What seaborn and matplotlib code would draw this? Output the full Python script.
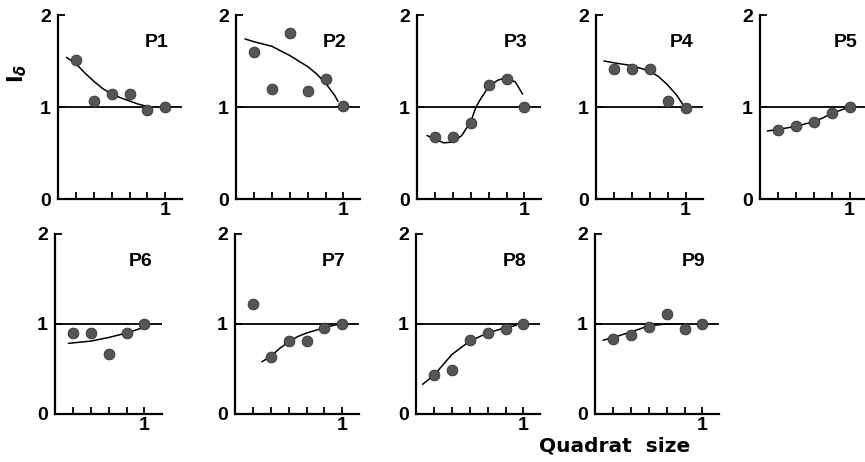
import matplotlib
matplotlib.use("Agg")
import matplotlib.pyplot as plt
import seaborn as sns

# quadrat size steps (last step = size 1)
sizes6 = [1, 2, 3, 4, 5, 6]
sizes5 = [1, 2, 3, 4, 5]

# observed I_delta values
p1_y = [1.51, 1.06, 1.14, 1.14, 0.97, 1.00]
p2_y = [1.60, 1.20, 1.80, 1.17, 1.30, 1.01]
p3_y = [0.67, 0.67, 0.83, 1.24, 1.30, 1.00]
p4_y = [1.41, 1.41, 1.41, 1.07, 0.99]
p5_y = [0.75, 0.79, 0.84, 0.94, 1.00]
p6_y = [0.90, 0.90, 0.67, 0.90, 1.00]
p7_y = [1.22, 0.63, 0.81, 0.81, 0.96, 1.00]
p8_y = [0.43, 0.49, 0.82, 0.90, 0.94, 1.00]
p9_y = [0.83, 0.88, 0.97, 1.11, 0.95, 1.00]

# fitted curves
p1_cx = [0.47, 1, 1.5, 2, 2.5, 3, 3.5, 4, 4.5, 5.14]
p1_cy = [1.54, 1.47, 1.37, 1.28, 1.20, 1.14, 1.10, 1.065, 1.03, 1.00]
p2_cx = [0.5, 1, 2, 3, 4, 4.5, 5, 5.5, 5.7]
p2_cy = [1.74, 1.71, 1.66, 1.56, 1.44, 1.36, 1.26, 1.13, 1.06]
p3_cx = [0.56, 1, 1.5, 2, 2.5, 3, 3.3, 3.5, 4, 4.5, 5, 5.5, 5.9]
p3_cy = [0.69, 0.65, 0.61, 0.62, 0.69, 0.84, 1.00, 1.07, 1.22, 1.29, 1.32, 1.27, 1.14]
p4_cx = [0.44, 1, 2, 3, 3.5, 4, 4.5, 4.95]
p4_cy = [1.50, 1.48, 1.45, 1.39, 1.33, 1.24, 1.13, 1.00]
p5_cx = [0.41, 1, 2, 3, 3.5, 4, 5]
p5_cy = [0.74, 0.755, 0.79, 0.84, 0.88, 0.93, 1.00]
p6_cx = [0.75, 1, 2, 3, 4, 4.77]
p6_cy = [0.785, 0.79, 0.81, 0.85, 0.90, 0.95]
p7_cx = [1.5, 2, 2.5, 3, 3.5, 4, 4.5, 5, 5.5, 5.9]
p7_cy = [0.58, 0.64, 0.73, 0.80, 0.86, 0.90, 0.93, 0.96, 0.985, 1.00]
p8_cx = [0.37, 1, 2, 3, 4, 5, 5.6]
p8_cy = [0.33, 0.43, 0.66, 0.81, 0.90, 0.96, 0.985]
p9_cx = [0.46, 1, 2, 3, 3.5, 4, 5]
p9_cy = [0.82, 0.85, 0.91, 0.98, 0.99, 1.00, 1.00]

names = ["P1", "P2", "P3", "P4", "P5", "P6", "P7", "P8", "P9"]
xs = [sizes6, sizes6, sizes6, sizes5, sizes5, sizes5, sizes6, sizes6, sizes6]
ys = [p1_y, p2_y, p3_y, p4_y, p5_y, p6_y, p7_y, p8_y, p9_y]
cxs = [p1_cx, p2_cx, p3_cx, p4_cx, p5_cx, p6_cx, p7_cx, p8_cx, p9_cx]
cys = [p1_cy, p2_cy, p3_cy, p4_cy, p5_cy, p6_cy, p7_cy, p8_cy, p9_cy]

sns.set_theme(style="ticks", rc={'text.color': 'black', 'axes.edgecolor': 'black',
                                 'xtick.color': 'black', 'ytick.color': 'black',
                                 'axes.labelcolor': 'black'})
plt.rcParams['font.family'] = ['Liberation Sans', 'DejaVu Sans']
plt.rcParams['font.weight'] = 'bold'

W, H = 865, 462
fig = plt.figure(figsize=(W / 100, H / 100), dpi=100)

# panel placement in pixels: (left of y axis, y=2 top, y=0 bottom)
lefts = [58, 236, 417, 596, 760, 55, 235, 416, 595]
tops = [15] * 5 + [234] * 4
bottoms = [199] * 5 + [414] * 4
step_px = 17.9

for i, name in enumerate(names):
    n = len(xs[i])
    xmax = 6.9 if n == 6 else 6.0
    w = xmax * step_px
    ax = fig.add_axes([lefts[i] / W, 1 - bottoms[i] / H, w / W,
                       (bottoms[i] - tops[i]) / H])
    ax.axhline(1, color='black', lw=1.3, zorder=1)
    sns.lineplot(x=cxs[i], y=cys[i], ax=ax, color='black', lw=1.1,
                 estimator=None, sort=False, zorder=2)
    sns.scatterplot(x=xs[i], y=ys[i], ax=ax, color='#555555', s=60,
                    edgecolor='#333333', linewidth=0.6, zorder=3)
    ax.set_xlim(0, xmax)
    ax.set_ylim(0, 2)
    ax.set_yticks([0, 1, 2])
    ax.set_yticklabels(['0', '1', '2'], fontsize=14, fontweight='bold')
    ax.set_xticks(xs[i])
    ax.set_xticklabels([''] * (n - 1) + ['1'], fontsize=14, fontweight='bold')
    ax.tick_params(axis='x', direction='in', length=5, width=1.3, pad=2)
    ax.tick_params(axis='y', direction='in', length=5, width=1.3, pad=5)
    for s in ['top', 'right']:
        ax.spines[s].set_visible(False)
    for s in ['left', 'bottom']:
        ax.spines[s].set_linewidth(1.6)
    ax.text(0.80, 0.85, name, transform=ax.transAxes, ha='center',
            va='center', fontsize=14, fontweight='bold')
    ax.patch.set_alpha(0)

fig.text(17 / W, 1 - 73 / H, r'$\mathbf{I}_{\delta}$', rotation=90,
         ha='center', va='center', fontsize=15)
fig.text(615 / W, 1 - 446 / H, 'Quadrat  size', ha='center', va='center',
         fontsize=14.5, fontweight='bold', family='DejaVu Sans')

fig.savefig('out.png', dpi=100)
